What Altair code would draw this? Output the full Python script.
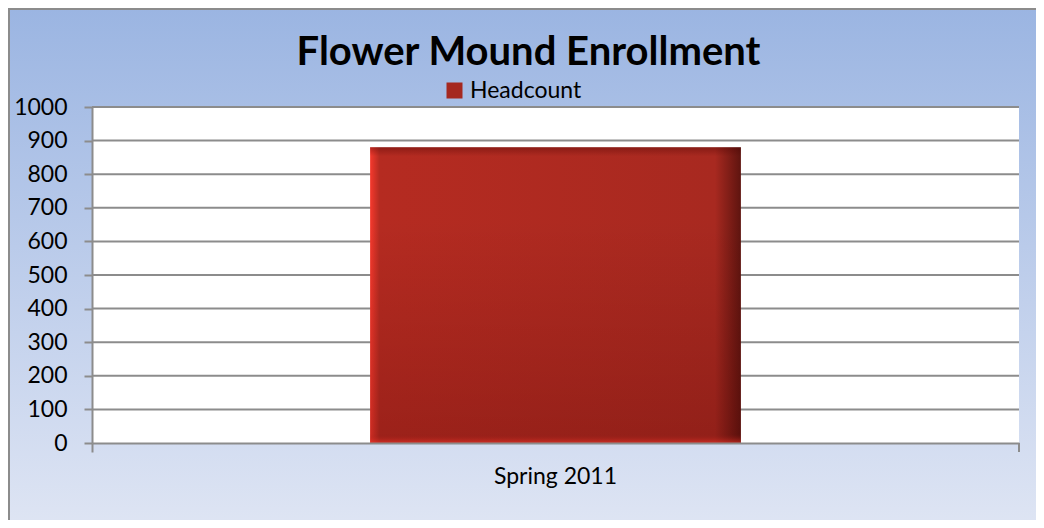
import altair as alt
import pandas as pd

title_text = "Flower Mound Enrollment"
categories = ["Spring 2011"]
headcount = [880]
series_name = ["Headcount"]
y_ticks = list(range(0, 1001, 100))

df = pd.DataFrame({"term": categories, "value": headcount, "series": series_name})
grid_df = pd.DataFrame({"value": y_ticks[1:]})
title_df = pd.DataFrame({"t": [title_text]})

W, H = 927, 336
PAD = {"left": 84, "top": 99, "right": 17, "bottom": 77}

bg_grad = alt.LinearGradient(
    gradient="linear", x1=0, y1=0, x2=0, y2=1,
    stops=[alt.GradientStop(color="#9bb5e2", offset=0),
           alt.GradientStop(color="#e0e6f4", offset=1)])

edge_grad = alt.LinearGradient(
    gradient="linear", x1=0, y1=0, x2=1, y2=0,
    stops=[alt.GradientStop(color="#f5392d", offset=0),
           alt.GradientStop(color="#b52b21", offset=0.025),
           alt.GradientStop(color="#a82920", offset=0.93),
           alt.GradientStop(color="#5e140f", offset=1)])

shade_grad = alt.LinearGradient(
    gradient="linear", x1=0, y1=0, x2=0, y2=1,
    stops=[alt.GradientStop(color="rgba(70,0,0,0.35)", offset=0),
           alt.GradientStop(color="rgba(70,0,0,0.0)", offset=0.03),
           alt.GradientStop(color="rgba(70,0,0,0.0)", offset=0.25),
           alt.GradientStop(color="rgba(70,0,0,0.22)", offset=0.97),
           alt.GradientStop(color="rgba(230,50,40,0.6)", offset=1)])

background = alt.Chart(df).mark_rect(
    fill=bg_grad, stroke="#8c8c8c", strokeWidth=2, clip=False
).encode(
    x=alt.value(-83), x2=alt.value(W + PAD["right"] + 30),
    y=alt.value(-PAD["top"] + 1), y2=alt.value(H + PAD["bottom"] + 20),
)

plotbg = alt.Chart(df).mark_rect(fill="white").encode(
    x=alt.value(0), x2=alt.value(W), y=alt.value(0), y2=alt.value(H)
)

xenc = alt.X(
    "term:N", title=None,
    scale=alt.Scale(paddingInner=0, paddingOuter=0),
    axis=alt.Axis(labelAngle=0, labelFontSize=23, labelFont="Lato",
                  labelColor="#000000", labelPadding=13, tickSize=9,
                  tickColor="#8c8c8c", tickWidth=2, bandPosition=0,
                  domainColor="#8c8c8c", domainWidth=2, grid=False,
                  zindex=1),
)
yenc = alt.Y(
    "value:Q", title=None,
    scale=alt.Scale(domain=[0, 1000], nice=False),
    axis=alt.Axis(values=y_ticks, format="d", labelFontSize=23,
                  labelFont="Lato", labelColor="#000000", labelPadding=17,
                  tickSize=8, tickColor="#8c8c8c", tickWidth=2,
                  domainColor="#8c8c8c", domainWidth=2,
                  grid=False, zindex=1),
)

grid = alt.Chart(grid_df).mark_rule(color="#8c8c8c", strokeWidth=2).encode(
    y=yenc
)

bars = alt.Chart(df).mark_bar(
    width=alt.RelativeBandSize(0.4), fill=edge_grad
).encode(
    x=xenc, y=yenc,
    color=alt.Color(
        "series:N",
        scale=alt.Scale(range=["#a52820"]),
        legend=alt.Legend(title=None, orient="none", legendX=351, legendY=-28,
                          symbolType="square", symbolSize=256,
                          symbolStrokeWidth=0, labelFont="Lato",
                          labelFontSize=23, labelColor="#000000",
                          labelOffset=4, padding=0),
    ),
)

shade = alt.Chart(df).mark_bar(
    width=alt.RelativeBandSize(0.4), fill=shade_grad
).encode(x=xenc, y=yenc)

endtick = alt.Chart(df).mark_rule(color="#8c8c8c", strokeWidth=2).encode(
    x=alt.value(W), y=alt.value(H), y2=alt.value(H + 9)
)

title = alt.Chart(title_df).mark_text(
    font="Lato", fontSize=40, fontWeight="bold", color="#000000",
    align="center", baseline="alphabetic"
).encode(text="t:N", x=alt.value(W / 2 - 27), y=alt.value(-42))

chart = alt.layer(background, plotbg, grid, bars, shade, endtick, title).properties(
    width=W, height=H,
    padding=PAD,
    autosize=alt.AutoSizeParams(type="none"),
).configure_view(stroke=None).configure(background="#e0e6f4")

chart.save("out.html", embed_options={"renderer": "svg", "actions": False})
